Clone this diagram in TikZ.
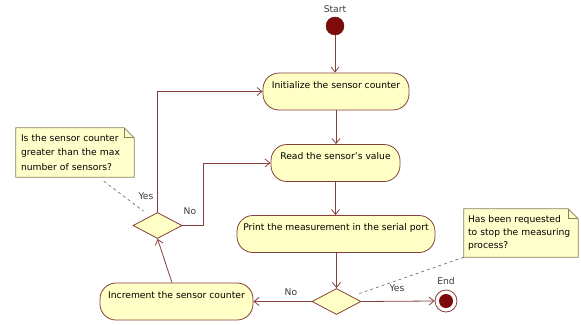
\documentclass[tikz,border=0pt]{standalone}
\usepackage{fontspec}
\setmainfont{DejaVu Sans}
\usetikzlibrary{shapes.geometric,arrows.meta,backgrounds,calc}
\definecolor{nodefill}{HTML}{FFFFC6}
\definecolor{edgec}{HTML}{86403C}
\definecolor{notefill}{HTML}{FFFFCC}
\definecolor{noteedge}{HTML}{8E7F5A}
\definecolor{startred}{HTML}{7E0A0A}
\definecolor{labc}{HTML}{3A3A3A}
\tikzset{
  act/.style={draw=edgec, fill=nodefill, rounded corners=16pt, line width=0.8pt,
    minimum height=37pt, text height=9pt, text depth=16pt, inner ysep=6pt, inner xsep=0pt},
  dec/.style={draw=edgec, fill=nodefill, diamond, line width=0.8pt, inner sep=0pt,
    minimum width=49pt, minimum height=26pt},
  arr/.style={draw=edgec, line width=0.8pt, -{Straight Barb[length=5pt,width=8pt]}},
  notetext/.style={align=left, inner ysep=0pt},
  notebox/.style={draw=noteedge, fill=notefill, line width=0.7pt},
  noteline/.style={draw=black!55, line width=0.7pt, dash pattern=on 3pt off 3pt},
  lab/.style={text=labc, inner sep=0pt}
}
\begin{document}
\begin{tikzpicture}[x=1pt,y=-1pt, font=\fontsize{9.2}{14}\selectfont]
\useasboundingbox (0,0) rectangle (581,324);

% start / end
\node[lab] (startlab) at (335,9) {Start};
\node[circle, fill=startred, draw=startred!70!black, minimum size=18pt, inner sep=0pt] (start) at (335,26) {};
\node[lab] (endlab) at (446,281) {End};
\node[circle, draw=edgec, fill=white, line width=0.8pt, minimum size=22pt, inner sep=0pt] (end) at (446,301) {};
\node[circle, fill=startred, minimum size=14pt, inner sep=0pt] (endin) at (446,301) {};

% activities
\node[act, minimum width=146pt] (init) at (336,91.5) {Initialize the sensor counter};
\node[act, minimum width=129pt] (read) at (335.5,163) {Read the sensor's value};
\node[act, minimum width=198pt] (print) at (336,234) {Print the measurement in the serial port};
\node[act, minimum width=153pt] (incr) at (176.5,301.5) {Increment the sensor counter};

% decisions
\node[dec] (dec1) at (157.5,225.5) {};
\node[dec] (dec2) at (336.5,301.5) {};

% notes
\node[notetext, text width=108pt, inner xsep=5pt, minimum height=49pt, font=\fontsize{9.2}{14.4}\selectfont] (note1) at (75,152.5)
  {Is the sensor counter\\greater than the max\\number of sensors?};
\node[notetext, text width=106pt, inner xsep=4pt, minimum height=48pt, font=\fontsize{9.2}{13.4}\selectfont] (note2) at (521,233)
  {Has been requested\\to stop the measuring\\process?};
\begin{pgfonlayer}{background}
  \foreach \n in {note1,note2}{
    \filldraw[notebox] (\n.north west) -- ([xshift=-10pt]\n.north east) -- ([yshift=-10pt]\n.north east)
      -- (\n.south east) -- (\n.south west) -- cycle;
    \draw[notebox, fill=none] ([xshift=-10pt]\n.north east) -- ([xshift=-10pt,yshift=-10pt]\n.north east)
      -- ([yshift=-10pt]\n.north east);
  }
\end{pgfonlayer}

% connectors
\draw[arr] (start.south) -- (start.south |- init.north);
\draw[arr] (init.south) -- (init.south |- read.north);
\draw[arr] (read.south) -- (read.south |- print.north);
\draw[arr] (print.south -| dec2.north) -- (dec2.north);
\draw[arr] (dec2.east) -- (end.west);
\draw[arr] (dec2.west) -- (dec2.west -| incr.east);
\draw[arr] ([xshift=-4.5pt]incr.north) -- (dec1.south);
\draw[arr] (dec1.north) |- (init.west);
\coordinate (bend) at (203,225.5);
\draw[arr] (dec1.east) -- (bend) |- (read.west);

% note links
\draw[noteline] ($(note1.south west)+(88,4)$) -- ($(dec1.north)+(-14,-1)$);
\draw[noteline] (note2.south west) -- ($(dec2.east)+(-2,-8)$);

% labels
\node[lab] (yes1) at (146,196) {Yes};
\node[lab] (no1) at (190,211) {No};
\node[lab] (no2) at (291,292) {No};
\node[lab] (yes2) at (397,288) {Yes};
\end{tikzpicture}
\end{document}
